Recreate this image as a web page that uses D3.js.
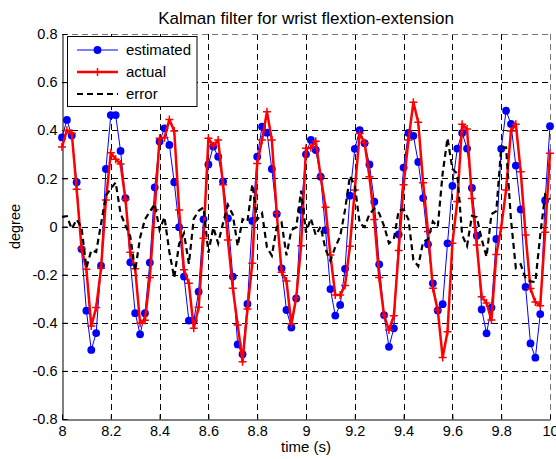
<!DOCTYPE html>
<html>
<head>
  <meta charset="utf-8">
  <script src="https://d3js.org/d3.v7.min.js"></script>
  <style>
    body { margin: 0; background: #fff; }
    svg text { font-family: "Liberation Sans", Arial, sans-serif; fill: #000; }
  </style>
</head>
<body>
<script>
// sample times (s), 0.02 s step
var time = [8.00,8.02,8.04,8.06,8.08,8.10,8.12,8.14,8.16,8.18,
  8.20,8.22,8.24,8.26,8.28,8.30,8.32,8.34,8.36,8.38,
  8.40,8.42,8.44,8.46,8.48,8.50,8.52,8.54,8.56,8.58,
  8.60,8.62,8.64,8.66,8.68,8.70,8.72,8.74,8.76,8.78,
  8.80,8.82,8.84,8.86,8.88,8.90,8.92,8.94,8.96,8.98,
  9.00,9.02,9.04,9.06,9.08,9.10,9.12,9.14,9.16,9.18,
  9.20,9.22,9.24,9.26,9.28,9.30,9.32,9.34,9.36,9.38,
  9.40,9.42,9.44,9.46,9.48,9.50,9.52,9.54,9.56,9.58,
  9.60,9.62,9.64,9.66,9.68,9.70,9.72,9.74,9.76,9.78,
  9.80,9.82,9.84,9.86,9.88,9.90,9.92,9.94,9.96,9.98,10.00];

var estimated = [0.37,0.443,0.378,0.184,-0.094,-0.35,-0.513,-0.443,-0.163,0.239,
  0.463,0.463,0.314,0.118,-0.149,-0.36,-0.448,-0.36,-0.15,0.163,
  0.353,0.408,0.339,0.184,-0.003,-0.208,-0.391,-0.391,-0.271,0.03,
  0.258,0.332,0.29,0.187,0.034,-0.208,-0.49,-0.531,-0.322,0.023,
  0.29,0.415,0.39,0.239,0.052,-0.174,-0.347,-0.42,-0.299,0.069,
  0.30,0.36,0.318,0.207,-0.015,-0.26,-0.37,-0.326,-0.176,0.128,
  0.323,0.40,0.346,0.258,0.103,-0.157,-0.368,-0.5,-0.423,-0.033,
  0.245,0.389,0.377,0.268,0.118,-0.074,-0.236,-0.349,-0.323,-0.07,
  0.169,0.324,0.389,0.324,0.16,-0.038,-0.345,-0.444,-0.337,-0.052,
  0.323,0.481,0.426,0.253,0.071,-0.251,-0.486,-0.545,-0.364,0.108,0.417];

var actual = [0.33,0.40,0.388,0.155,-0.09,-0.178,-0.414,-0.337,-0.174,0.11,
  0.306,0.28,0.26,0.113,-0.107,-0.176,-0.402,-0.39,-0.212,0.07,
  0.367,0.369,0.445,0.397,0.069,-0.18,-0.236,-0.423,-0.336,-0.049,
  0.367,0.336,0.36,0.173,-0.056,-0.257,-0.409,-0.562,-0.343,-0.153,
  0.262,0.36,0.477,0.36,0.055,-0.19,-0.227,-0.405,-0.296,-0.08,
  0.325,0.327,0.354,0.208,0.08,-0.118,-0.285,-0.285,-0.245,-0.082,
  0.152,0.387,0.348,0.207,0.029,-0.212,-0.37,-0.43,-0.371,-0.1,
  0.174,0.36,0.516,0.433,0.182,-0.021,-0.257,-0.348,-0.544,-0.437,
  -0.07,0.104,0.425,0.405,0.116,-0.077,-0.292,-0.318,-0.389,-0.116,
  -0.005,0.152,0.397,0.425,0.228,-0.035,-0.258,-0.314,-0.329,-0.024,0.304];

var error = [0.04,0.043,-0.01,0.029,-0.004,-0.172,-0.099,-0.106,0.011,0.129,
  0.157,0.183,0.054,0.005,-0.042,-0.184,-0.046,0.03,0.062,0.093,
  -0.014,0.039,-0.106,-0.213,-0.072,-0.028,-0.155,0.032,0.065,0.079,
  -0.109,-0.004,-0.07,0.014,0.09,0.049,-0.081,0.031,0.021,0.176,
  0.028,0.055,-0.087,-0.121,-0.003,0.016,-0.12,-0.015,-0.003,0.149,
  -0.025,0.033,-0.036,-0.001,-0.095,-0.142,-0.085,-0.041,0.069,0.21,
  0.171,0.013,-0.002,0.051,0.074,0.055,0.002,-0.07,-0.052,0.067,
  0.071,0.029,-0.139,-0.165,-0.064,-0.053,0.021,-0.001,0.221,0.367,
  0.239,0.22,-0.036,-0.081,0.044,0.039,-0.053,-0.126,0.052,0.064,
  0.328,0.329,0.029,-0.172,-0.157,-0.216,-0.228,-0.231,-0.035,0.132,0.113];

var xTicks = [8, 8.2, 8.4, 8.6, 8.8, 9, 9.2, 9.4, 9.6, 9.8, 10];
var yTicks = [-0.8, -0.6, -0.4, -0.2, 0, 0.2, 0.4, 0.6, 0.8];
var seriesNames = ["estimated", "actual", "error"];

var W = 556, H = 459;
// plot box (avoid the name "top", it is window.top)
var pl = 62, pr = 550, pt = 34, pb = 419;

var svg = d3.select("body").append("svg")
  .attr("width", W).attr("height", H);

var x = d3.scaleLinear().domain([8, 10]).range([pl, pr]);
var y = d3.scaleLinear().domain([-0.8, 0.8]).range([pb, pt]);

// grid (dashed)
var grid = svg.append("g");
grid.selectAll("line.vx").data(xTicks.slice(1)).enter().append("line")
  .attr("x1", function (d) { return Math.round(x(d)) + 0.5; })
  .attr("x2", function (d) { return Math.round(x(d)) + 0.5; })
  .attr("y1", pt).attr("y2", pb)
  .attr("stroke", function (d) { return d === 10 ? "#777" : "#000"; })
  .attr("stroke-width", 1)
  .attr("stroke-dasharray", "6,4");
grid.selectAll("line.hy").data(yTicks.slice(1)).enter().append("line")
  .attr("y1", function (d) { return Math.round(y(d)) + 0.5; })
  .attr("y2", function (d) { return Math.round(y(d)) + 0.5; })
  .attr("x1", pl).attr("x2", pr)
  .attr("stroke", function (d) { return d === 0.8 ? "#777" : "#000"; })
  .attr("stroke-width", 1)
  .attr("stroke-dasharray", "6,4");

// axes
var fmt = function (d) { return String(+d.toFixed(1)); };
var xAxis = d3.axisBottom(x).tickValues(xTicks).tickSizeInner(-5).tickSizeOuter(0)
  .tickPadding(6).tickFormat(fmt);
var gx = svg.append("g").attr("transform", "translate(0," + (pb + 0.5) + ")").call(xAxis);
var yAxis = d3.axisLeft(y).tickValues(yTicks).tickSizeInner(-5).tickSizeOuter(0)
  .tickPadding(5).tickFormat(fmt);
var gy = svg.append("g").attr("transform", "translate(" + (pl + 0.5) + ",0)").call(yAxis);
[gx, gy].forEach(function (g) {
  g.selectAll("path").attr("stroke", "#000");
  g.selectAll("line").attr("stroke", "#000");
  g.selectAll("text").style("font-size", "14.5px")
    .style("font-family", "'Liberation Sans', Arial, sans-serif");
});

// series
var plot = svg.append("g");
var line = function (vals) {
  return d3.line().x(function (d, i) { return x(time[i]); })
    .y(function (d) { return y(d); })(vals);
};

plot.append("path").attr("d", line(estimated))
  .attr("fill", "none").attr("stroke", "#0000ff").attr("stroke-width", 1);
plot.selectAll("circle.est").data(estimated).enter().append("circle")
  .attr("cx", function (d, i) { return x(time[i]); })
  .attr("cy", function (d) { return y(d); })
  .attr("r", 3.9).attr("fill", "#0000ff");

plot.append("path").attr("d", line(actual))
  .attr("fill", "none").attr("stroke", "#ff0000").attr("stroke-width", 2.5)
  .attr("stroke-linejoin", "round");
plot.selectAll("path.act").data(actual).enter().append("path")
  .attr("d", function (d, i) {
    var cx = x(time[i]), cy = y(d), s = 4;
    return "M" + (cx - s) + "," + cy + "H" + (cx + s) + "M" + cx + "," + (cy - s) + "V" + (cy + s);
  })
  .attr("stroke", "#ff0000").attr("stroke-width", 1.5);

plot.append("path").attr("d", line(error))
  .attr("fill", "none").attr("stroke", "#000").attr("stroke-width", 2.2)
  .attr("stroke-dasharray", "6,4");

// legend
var lg = svg.append("g");
lg.append("rect").attr("x", 67.5).attr("y", 36.5).attr("width", 129.5).attr("height", 70)
  .attr("fill", "#fff").attr("stroke", "#000").attr("stroke-width", 1);
var ly = [50, 72, 94];
seriesNames.forEach(function (name, i) {
  var l = lg.append("line").attr("x1", 77).attr("x2", 118).attr("y1", ly[i]).attr("y2", ly[i]);
  if (i === 0) {
    l.attr("stroke", "#0000ff").attr("stroke-width", 1);
    lg.append("circle").attr("cx", 97.5).attr("cy", ly[i]).attr("r", 3.9).attr("fill", "#0000ff");
  } else if (i === 1) {
    l.attr("stroke", "#ff0000").attr("stroke-width", 2.5);
    lg.append("path").attr("d", "M93.5," + ly[i] + "H101.5M97.5," + (ly[i] - 4) + "V" + (ly[i] + 4))
      .attr("stroke", "#ff0000").attr("stroke-width", 1.5);
  } else {
    l.attr("stroke", "#000").attr("stroke-width", 2.2).attr("stroke-dasharray", "6,4");
  }
  lg.append("text").attr("x", 126).attr("y", ly[i] + 5).style("font-size", "15px").text(name);
});

// labels
svg.append("text").attr("x", (pl + pr) / 2).attr("y", 24).attr("text-anchor", "middle")
  .style("font-size", "17px").text("Kalman filter for wrist flextion-extension");
svg.append("text").attr("x", (pl + pr) / 2).attr("y", 452).attr("text-anchor", "middle")
  .style("font-size", "15px").text("time (s)");
svg.append("text").attr("transform", "translate(20," + ((pt + pb) / 2) + ") rotate(-90)")
  .attr("text-anchor", "middle").style("font-size", "14.5px").text("degree");
</script>
</body>
</html>
